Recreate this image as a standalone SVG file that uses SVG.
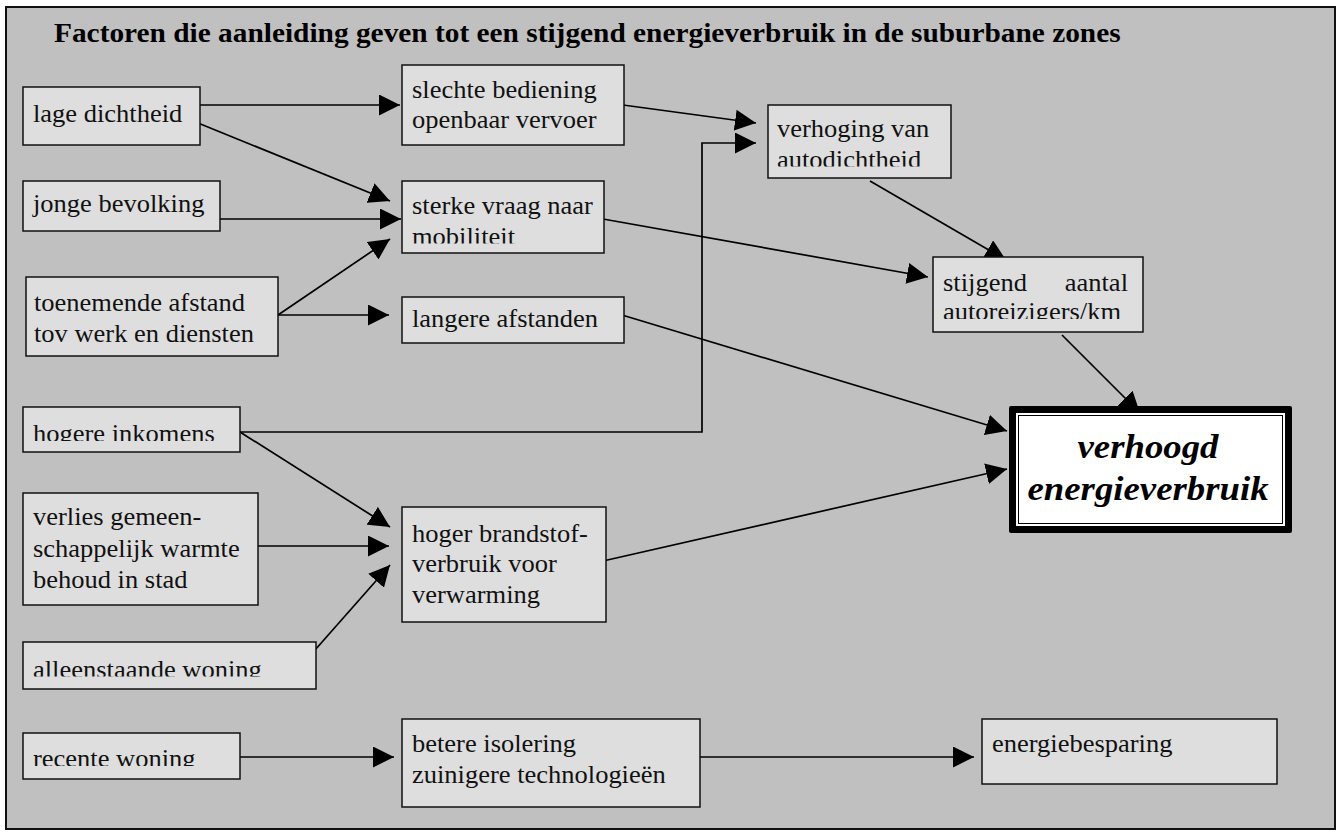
<svg xmlns="http://www.w3.org/2000/svg" width="1338" height="832" viewBox="0 0 1338 832">
  <style>
    .box { fill: #dedede; stroke: #111; stroke-width: 1.5; }
    text { font-family: "Liberation Serif", "Times New Roman", serif; }
    .t { font-size: 25px; fill: #111; }
    .title { font-size: 27.7px; font-weight: bold; fill: #000; }
    .big { font-size: 34.7px; font-weight: bold; font-style: italic; fill: #000; text-anchor: middle; }
    .c { fill: none; stroke: #000; stroke-width: 1.7; marker-end: url(#arrow); }
  </style>
  <defs>
    <marker id="arrow" markerUnits="userSpaceOnUse" markerWidth="21" markerHeight="21" refX="20" refY="10" orient="auto" viewBox="0 0 20 20">
      <path d="M0,0 L20,10 L0,20 Z" fill="#000"/>
    </marker>
    <clipPath id="clip-sterke"><rect x="402" y="181" width="202" height="62.5"/></clipPath>
    <clipPath id="clip-verhoging"><rect x="768" y="105" width="183" height="61.5"/></clipPath>
    <clipPath id="clip-stijgend"><rect x="933" y="257" width="210" height="62"/></clipPath>
    <clipPath id="clip-hogere"><rect x="23" y="407" width="217" height="34"/></clipPath>
    <clipPath id="clip-alleen"><rect x="23" y="642" width="293" height="34.5"/></clipPath>
    <clipPath id="clip-recente"><rect x="23" y="733" width="217" height="33"/></clipPath>
  </defs>

  <!-- page frame -->
  <rect x="6" y="7" width="1329" height="822" fill="#c0c0c0" stroke="#111" stroke-width="2"/>
  <text class="title" transform="translate(54,42) scale(1.06,1)">Factoren die aanleiding geven tot een stijgend energieverbruik in de suburbane zones</text>

  <!-- connectors -->
  <g id="connectors">
    <line class="c" x1="200" y1="105" x2="400" y2="105"/>
    <line class="c" x1="198" y1="123" x2="390" y2="201"/>
    <line class="c" x1="218" y1="219" x2="401" y2="219"/>
    <line class="c" x1="278" y1="315" x2="390" y2="239"/>
    <line class="c" x1="278" y1="315" x2="389" y2="315"/>
    <line class="c" x1="623" y1="105" x2="756" y2="123"/>
    <polyline class="c" points="240,432 702,432 702,143 756,143"/>
    <line class="c" x1="603" y1="219" x2="928" y2="277"/>
    <line class="c" x1="870" y1="181" x2="1006" y2="260"/>
    <line class="c" x1="1062" y1="335" x2="1140" y2="413"/>
    <line class="c" x1="622" y1="315" x2="1007" y2="431"/>
    <line class="c" x1="240" y1="432" x2="390" y2="527"/>
    <line class="c" x1="258" y1="546" x2="389" y2="546"/>
    <line class="c" x1="315" y1="650" x2="390" y2="565"/>
    <line class="c" x1="603" y1="561" x2="1007" y2="469"/>
    <line class="c" x1="240" y1="757" x2="394" y2="757"/>
    <line class="c" x1="700" y1="757" x2="974" y2="757"/>
  </g>

  <!-- left column -->
  <g id="n-lage">
    <rect class="box" x="23" y="87" width="177" height="58"/>
    <text class="t" transform="translate(33,0) scale(1.06,1)"><tspan x="0" y="122">lage dichtheid</tspan></text>
  </g>
  <g id="n-jonge">
    <rect class="box" x="23" y="181" width="197" height="50"/>
    <text class="t" transform="translate(33,0) scale(1.06,1)"><tspan x="0" y="212">jonge bevolking</tspan></text>
  </g>
  <g id="n-toenemende">
    <rect class="box" x="26" y="277" width="252" height="79"/>
    <text class="t" transform="translate(34,0) scale(1.06,1)"><tspan x="0" y="311">toenemende afstand</tspan><tspan x="0" y="342">tov werk en diensten</tspan></text>
  </g>
  <g id="n-hogere">
    <rect class="box" x="23" y="407" width="217" height="45"/>
    <g clip-path="url(#clip-hogere)">
      <text class="t" transform="translate(33,0) scale(1.06,1)"><tspan x="0" y="442">hogere inkomens</tspan></text>
    </g>
  </g>
  <g id="n-verlies">
    <rect class="box" x="23" y="493" width="235" height="112"/>
    <text class="t" transform="translate(33,0) scale(1.06,1)"><tspan x="0" y="525">verlies gemeen-</tspan><tspan x="0" y="557">schappelijk warmte</tspan><tspan x="0" y="588">behoud in stad</tspan></text>
  </g>
  <g id="n-alleen">
    <rect class="box" x="23" y="642" width="293" height="47"/>
    <g clip-path="url(#clip-alleen)">
      <text class="t" transform="translate(33,0) scale(1.06,1)"><tspan x="0" y="678">alleenstaande woning</tspan></text>
    </g>
  </g>
  <g id="n-recente">
    <rect class="box" x="23" y="733" width="217" height="46"/>
    <g clip-path="url(#clip-recente)">
      <text class="t" transform="translate(33,0) scale(1.06,1)"><tspan x="0" y="767">recente woning</tspan></text>
    </g>
  </g>

  <!-- middle column -->
  <g id="n-slechte">
    <rect class="box" x="402" y="65" width="222" height="80"/>
    <text class="t" transform="translate(412,0) scale(1.06,1)"><tspan x="0" y="98">slechte bediening</tspan><tspan x="0" y="128">openbaar vervoer</tspan></text>
  </g>
  <g id="n-sterke">
    <rect class="box" x="402" y="181" width="202" height="72"/>
    <g clip-path="url(#clip-sterke)">
      <text class="t" transform="translate(412,0) scale(1.06,1)"><tspan x="0" y="214">sterke vraag naar</tspan><tspan x="0" y="245">mobiliteit</tspan></text>
    </g>
  </g>
  <g id="n-langere">
    <rect class="box" x="402" y="297" width="222" height="46"/>
    <text class="t" transform="translate(412,0) scale(1.06,1)"><tspan x="0" y="327">langere afstanden</tspan></text>
  </g>
  <g id="n-hoger">
    <rect class="box" x="402" y="507" width="204" height="115"/>
    <text class="t" transform="translate(412,0) scale(1.06,1)"><tspan x="0" y="542">hoger brandstof-</tspan><tspan x="0" y="572">verbruik voor</tspan><tspan x="0" y="603">verwarming</tspan></text>
  </g>
  <g id="n-betere">
    <rect class="box" x="402" y="719" width="298" height="88"/>
    <text class="t" transform="translate(412,0) scale(1.06,1)"><tspan x="0" y="752">betere isolering</tspan><tspan x="0" y="783">zuinigere technologieën</tspan></text>
  </g>

  <!-- right column -->
  <g id="n-verhoging">
    <rect class="box" x="768" y="105" width="183" height="73"/>
    <g clip-path="url(#clip-verhoging)">
      <text class="t" transform="translate(777,0) scale(1.06,1)"><tspan x="0" y="137">verhoging van</tspan><tspan x="0" y="168">autodichtheid</tspan></text>
    </g>
  </g>
  <g id="n-stijgend">
    <rect class="box" x="933" y="257" width="210" height="75"/>
    <g clip-path="url(#clip-stijgend)">
      <text class="t" transform="translate(943,0) scale(1.06,1)"><tspan x="0" y="291">stijgend</tspan><tspan x="0" y="320">autoreizigers/km</tspan></text>
      <text class="t" text-anchor="end" transform="translate(1128,0) scale(1.06,1)"><tspan x="0" y="291">aantal</tspan></text>
    </g>
  </g>
  <g id="n-verhoogd">
    <rect x="1009" y="406" width="283" height="127" rx="2" fill="#000"/>
    <rect x="1016" y="413" width="269" height="113" fill="#fff"/>
    <rect x="1018.5" y="415.5" width="264" height="108" fill="#fff" stroke="#000" stroke-width="1"/>
    <text class="big" transform="translate(1148,0) scale(1.06,1)"><tspan x="0" y="458">verhoogd</tspan><tspan x="0" y="500">energieverbruik</tspan></text>
  </g>
  <g id="n-energie">
    <rect class="box" x="982" y="719" width="295" height="65"/>
    <text class="t" transform="translate(992,0) scale(1.06,1)"><tspan x="0" y="752">energiebesparing</tspan></text>
  </g>
</svg>
